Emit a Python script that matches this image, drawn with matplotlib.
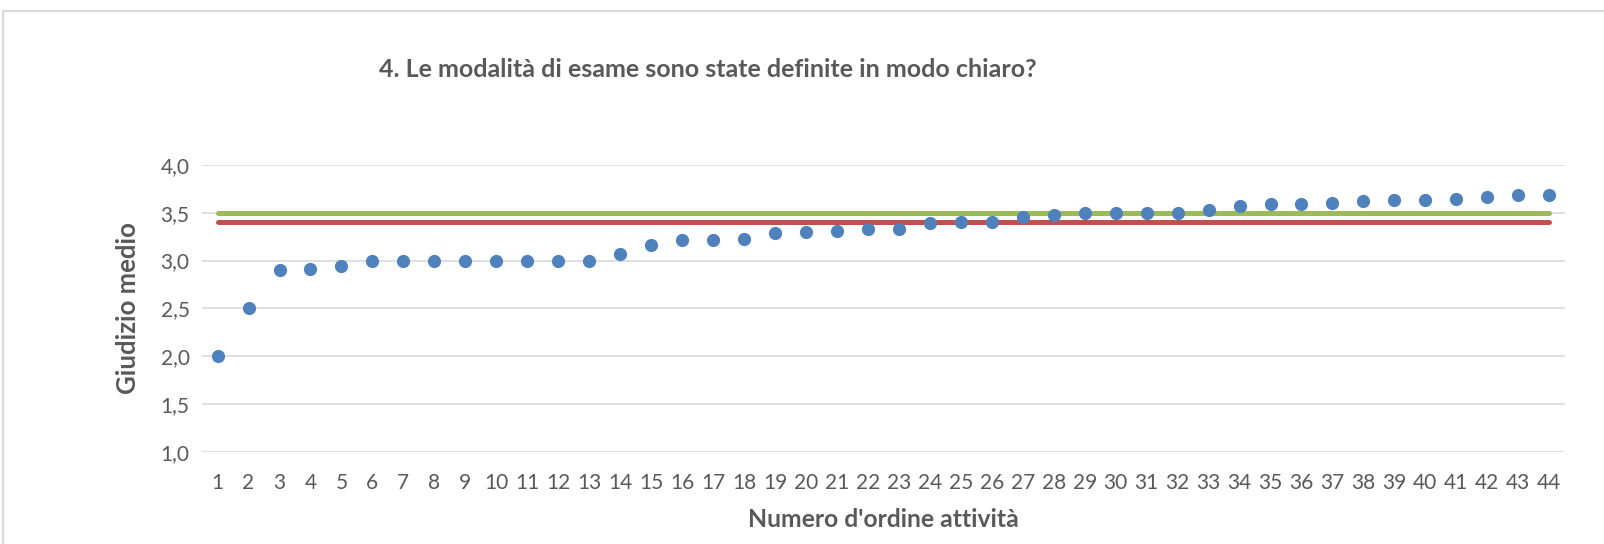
import matplotlib.pyplot as plt
from matplotlib.patches import Rectangle
from matplotlib.ticker import FuncFormatter

plt.rcParams['font.family'] = ['Lato', 'DejaVu Sans']

# dati
attivita = list(range(1, 45))
giudizio = [2.00, 2.50, 2.90, 2.91, 2.94, 3.00, 3.00, 3.00, 3.00, 3.00,
            3.00, 3.00, 3.00, 3.07, 3.16, 3.21, 3.22, 3.23, 3.29, 3.30,
            3.31, 3.33, 3.33, 3.39, 3.40, 3.40, 3.46, 3.48, 3.50, 3.50,
            3.50, 3.50, 3.53, 3.57, 3.59, 3.59, 3.60, 3.62, 3.63, 3.63,
            3.64, 3.66, 3.68, 3.69]
media_ateneo = 3.50
media_corso = 3.40

BLUE = '#4F81BD'
GREEN = '#9BBB59'
RED = '#C0504D'
GRID = '#D9D9D9'
TXT = '#595959'

fig = plt.figure(figsize=(16.04, 5.44), dpi=100)
ax = fig.add_axes([0.126, 0.169, 0.8495, 0.528])

# cornice dell'area grafico
fig.patches.append(Rectangle((3 / 1604, -0.1), 1.2, 1.1 - 12 / 544 + 0.002,
                             transform=fig.transFigure, fill=False,
                             edgecolor=GRID, linewidth=1.5))

ax.plot([attivita[0], attivita[-1]], [media_ateneo, media_ateneo],
        color=GREEN, lw=3.6, solid_capstyle='round', zorder=2)
ax.plot([attivita[0], attivita[-1]], [media_corso, media_corso],
        color=RED, lw=3.6, solid_capstyle='round', zorder=2)
ax.plot(attivita, giudizio, 'o', color=BLUE, markersize=9.5,
        markeredgewidth=0, zorder=3)

ax.set_xlim(0.5, 44.5)
ax.set_ylim(1.0, 4.0)
ax.set_xticks(attivita)
ax.set_yticks([1.0, 1.5, 2.0, 2.5, 3.0, 3.5, 4.0])
ax.yaxis.set_major_formatter(FuncFormatter(lambda v, p: f'{v:.1f}'.replace('.', ',')))
ax.grid(axis='y', color=GRID, lw=1.2)
ax.set_axisbelow(True)
for s in ax.spines.values():
    s.set_visible(False)
ax.tick_params(length=0, labelsize=15, labelcolor=TXT)
ax.tick_params(axis='x', pad=15)
ax.tick_params(axis='y', pad=9)

ax.set_xlabel("Numero d'ordine attività", fontsize=17.8, fontweight='bold',
              color=TXT, labelpad=11)
ax.set_ylabel('Giudizio medio', fontsize=18.5, fontweight='bold',
              color=TXT, labelpad=15)

fig.text(0.441, 0.872, '4. Le modalità di esame sono state definite in modo chiaro?',
         ha='center', va='center', fontsize=18, fontweight='bold', color=TXT)

fig.savefig('out.png', dpi=100)
